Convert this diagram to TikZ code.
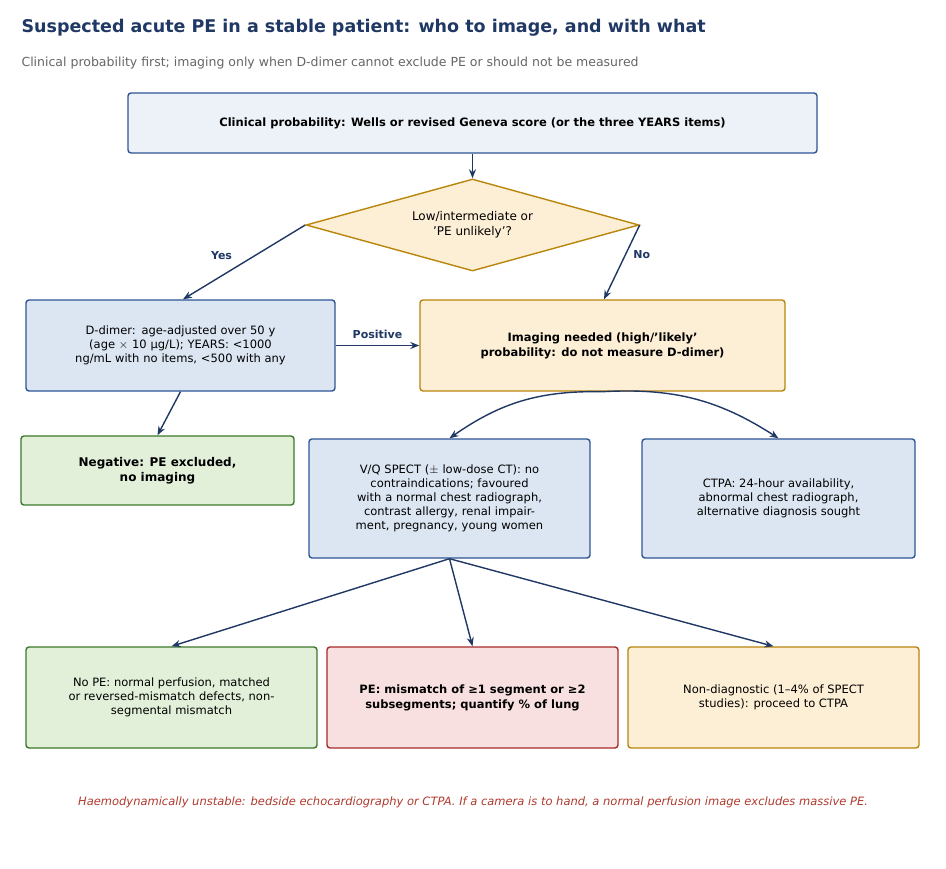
\documentclass[tikz,border=0pt]{standalone}
\usepackage{fontspec}
\setmainfont{DejaVu Sans}
\usetikzlibrary{shapes.geometric,arrows.meta}
\definecolor{navy}{HTML}{1F3864}
\definecolor{bblue}{HTML}{2F5597}
\definecolor{fblue}{HTML}{DCE6F2}
\definecolor{fblue2}{HTML}{EDF1F8}
\definecolor{gold}{HTML}{B8860B}
\definecolor{forange}{HTML}{FDEFD6}
\definecolor{bgreen}{HTML}{3B7A2A}
\definecolor{fgreen}{HTML}{E2F0DA}
\definecolor{bred}{HTML}{A52A2A}
\definecolor{fred}{HTML}{F9E0E0}
\definecolor{redtxt}{HTML}{B03A2E}
\tikzset{
 box/.style={draw, line width=1.4pt, rounded corners=3pt, align=center, font=\fontsize{11.5}{14}\selectfont, inner sep=2pt},
 bluebox/.style={box, draw=bblue, fill=fblue},
 orbox/.style={box, draw=gold, fill=forange},
 grbox/.style={box, draw=bgreen, fill=fgreen},
 rdbox/.style={box, draw=bred, fill=fred},
 arr/.style={draw=navy, line width=1.4pt, -{Stealth[length=9pt,width=7pt]}},
 lab/.style={text=navy, font=\fontsize{11}{13}\selectfont\bfseries},
}
\begin{document}
\begin{tikzpicture}[x=1pt,y=-1pt]
\fill[white] (0,0) rectangle (946,869);
\useasboundingbox (0,0) rectangle (946,869);
\node[anchor=west, text=navy, font=\fontsize{17.5}{20}\selectfont\bfseries] (title) at (18,28) {Suspected acute PE in a stable patient: who to image, and with what};
\node[anchor=west, text=black!60, font=\fontsize{12.5}{15}\selectfont] (sub) at (18,63) {Clinical probability first; imaging only when D-dimer cannot exclude PE or should not be measured};
\node[box, draw=bblue, fill=fblue2, minimum width=689, minimum height=60, font=\fontsize{11.5}{14}\selectfont\bfseries] (top) at (472.5,123) {Clinical probability: Wells or revised Geneva score (or the three YEARS items)};
\node[diamond, draw=gold, fill=forange, line width=1.4pt, minimum width=333, minimum height=92, aspect=3.6, inner sep=0pt, align=center, font=\fontsize{12}{15}\selectfont] (dia) at (472.5,225) {Low/intermediate or\\'PE unlikely'?};
\node[bluebox, minimum width=309, minimum height=91, text width=240] (dd) at (180.5,345.5) {D-dimer: age-adjusted over 50 y (age $\times$ 10 µg/L); YEARS: <1000 ng/mL with no items, <500 with any};
\node[orbox, minimum width=365, minimum height=91, font=\fontsize{11.5}{15}\selectfont\bfseries] (img) at (602.5,345.5) {Imaging needed (high/'likely'\\probability: do not measure D-dimer)};
\node[grbox, minimum width=273, minimum height=69, font=\fontsize{12}{15}\selectfont\bfseries] (neg) at (157.5,470.5) {Negative: PE excluded,\\no imaging};
\node[bluebox, minimum width=281, minimum height=119, text width=215] (vq) at (449.5,498.5) {V/Q SPECT ($\pm$ low-dose CT): no contraindications; favoured with a normal chest radiograph, contrast allergy, renal impairment, pregnancy, young women};
\node[bluebox, minimum width=273, minimum height=119] (ctpa) at (778.5,498.5) {CTPA: 24-hour availability,\\abnormal chest radiograph,\\alternative diagnosis sought};
\node[grbox, minimum width=291, minimum height=101] (nope) at (171.5,697.5) {No PE: normal perfusion, matched\\or reversed-mismatch defects, non-\\segmental mismatch};
\node[rdbox, minimum width=291, minimum height=101, font=\fontsize{11.5}{15}\selectfont\bfseries] (pe) at (472.5,697.5) {PE: mismatch of ≥1 segment or ≥2\\subsegments; quantify \% of lung};
\node[orbox, minimum width=291, minimum height=101] (nd) at (773.5,697.5) {Non-diagnostic (1–4\% of SPECT\\studies): proceed to CTPA};
\node[text=redtxt, font=\fontsize{11.5}{14}\selectfont\itshape] (foot) at (473,802) {Haemodynamically unstable: bedside echocardiography or CTPA. If a camera is to hand, a normal perfusion image excludes massive PE.};
\draw[arr] (top) -- (dia);
\draw[arr] (dia.west) -- (dd.north -| 183,0) node[lab, pos=0.55, above left=2pt] (yes) {Yes};
\draw[arr] (dia.east) -- (img.north -| 604,0) node[lab, pos=0.4, right=4pt] (no) {No};
\draw[arr] (dd.east) -- node[lab, above=3pt] (pos) {Positive} (img.west);
\draw[arr] (dd.south) -- (neg.north);
\draw[arr] (img.south) to[bend right=18] (vq.north);
\draw[arr] (img.south) to[bend left=18] (ctpa.north);
\draw[arr] (vq.south) -- (nope.north);
\draw[arr] (vq.south) -- (pe.north);
\draw[arr] (vq.south) -- (nd.north);
\end{tikzpicture}
\end{document}
